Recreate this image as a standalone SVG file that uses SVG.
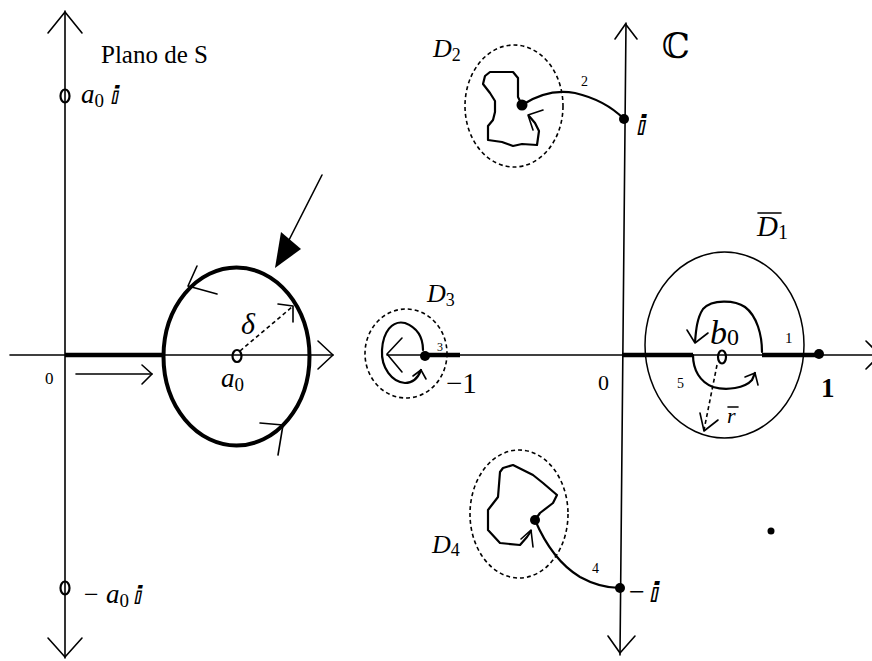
<svg xmlns="http://www.w3.org/2000/svg" width="872" height="661" viewBox="0 0 872 661">
<style>
.ln{stroke:#000;stroke-width:1.6;fill:none;stroke-linecap:round;stroke-linejoin:round}
.thk{stroke:#000;stroke-width:4.5;fill:none}
.crv{stroke:#000;stroke-width:2.2;fill:none;stroke-linecap:round;stroke-linejoin:round}
.dsh{stroke:#000;stroke-width:1.6;fill:none;stroke-dasharray:4 3}
.mk{stroke:#000;stroke-width:2.2;fill:none}
.t{font-family:"Liberation Serif","DejaVu Serif",serif;fill:#000}
.it{font-style:italic}
.ii{font-family:"DejaVu Serif","DejaVu Sans",serif;font-weight:bold;font-style:italic}
</style>
<rect width="872" height="661" fill="#fff"/>

<g id="s-plane">
  <line class="ln" x1="65" y1="11" x2="65" y2="658"/>
  <polyline class="ln" points="48,33 65,12 82,33"/>
  <polyline class="ln" points="48,638 65,657 82,638"/>
  <line class="ln" x1="10" y1="355" x2="333" y2="355"/>
  <polyline class="ln" points="318,341 333,355 318,369"/>
  <line class="thk" x1="65" y1="355" x2="163" y2="355"/>
  <line class="ln" x1="76" y1="374" x2="152" y2="374"/>
  <polyline class="ln" points="142,365 152,374 142,384"/>
  <text class="t" x="45" y="384" font-size="17">0</text>
  <text class="t" x="101" y="63" font-size="25">Plano de S</text>
  <ellipse class="mk" cx="65" cy="96" rx="4.5" ry="6.5"/>
  <text class="t" x="81" y="103" font-size="27"><tspan class="it">a</tspan><tspan font-size="19" dy="4">0</tspan></text>
  <text class="t ii" x="111" y="104" font-size="25">ⅈ</text>
  <ellipse class="mk" cx="65" cy="588" rx="4.5" ry="6.5"/>
  <text class="t" x="84" y="603" font-size="26">−</text>
  <text class="t" x="106" y="603" font-size="27"><tspan class="it">a</tspan><tspan font-size="19" dy="4">0</tspan></text>
  <text class="t ii" x="134" y="604" font-size="25">ⅈ</text>
</g>

<g id="s-circle">
  <ellipse cx="236.5" cy="356.5" rx="73" ry="89" fill="none" stroke="#000" stroke-width="4"/>
  <polyline class="ln" points="197,266 188,286 217,294"/>
  <polyline class="ln" points="260,423 283,425 278,455"/>
  <ellipse class="mk" cx="237" cy="356" rx="4.5" ry="6"/>
  <text class="t" x="221" y="387" font-size="27"><tspan class="it">a</tspan><tspan font-size="19" dy="4">0</tspan></text>
  <line class="dsh" x1="240" y1="351" x2="292" y2="307"/>
  <polyline class="ln" points="278,304 293,306 293,322"/>
  <text class="t it" x="241" y="334" font-size="30">δ</text>
  <line class="ln" x1="322" y1="175" x2="289" y2="240" stroke-width="2"/>
  <polygon points="275,268 281,232 301,249" fill="#000"/>
</g>

<g id="c-plane">
  <line class="ln" x1="626" y1="23" x2="620" y2="655"/>
  <polyline class="ln" points="615,39 625.5,24 637,39"/>
  <polyline class="ln" points="608,636 620,653 635,636"/>
  <line class="ln" x1="387" y1="355" x2="880" y2="355"/>
  <polyline class="ln" points="866,341 880,355 866,369"/>
  <line class="thk" x1="423" y1="355" x2="460" y2="355"/>
  <line class="thk" x1="622" y1="355" x2="693" y2="355"/>
  <line class="thk" x1="762" y1="355" x2="819" y2="355"/>
  <text class="t" x="662" y="58" font-size="35" font-family="DejaVu Serif">ℂ</text>
  <text class="t" x="598" y="390" font-size="22">0</text>
  <text class="t" x="446" y="393" font-size="29">−1</text>
  <text class="t" x="821" y="397" font-size="27" font-weight="bold">1</text>
  <circle cx="624" cy="119" r="5"/>
  <text class="t ii" x="637" y="135" font-size="28">ⅈ</text>
  <circle cx="620" cy="588" r="5"/>
  <text class="t" x="629" y="601" font-size="28">−</text>
  <text class="t ii" x="650" y="602" font-size="28">ⅈ</text>
  <circle cx="771" cy="531" r="3.5"/>
</g>

<g id="D1">
  <ellipse cx="724.5" cy="345" rx="79.5" ry="93" fill="none" stroke="#000" stroke-width="1.5"/>
  <text class="t" x="757" y="236" font-size="29"><tspan class="it">D</tspan><tspan font-size="20" dy="3">1</tspan></text>
  <line class="ln" x1="758" y1="213" x2="781" y2="213" stroke-width="1.4"/>
  <path class="crv" d="M762,352 C762,335 757,316 745,307 C735,300 712,299 703,309 C697,318 696,330 695,342"/>
  <polyline class="ln" points="687,330 695,343 708,333"/>
  <path class="crv" d="M693,355 C693,370 700,382 713,387 C727,391 745,388 752,380 L755,373"/>
  <polyline class="ln" points="745,377 755,373 758,385"/>
  <ellipse class="mk" cx="722" cy="357" rx="4" ry="6.5"/>
  <text class="t" x="710" y="344" font-size="34"><tspan class="it">b</tspan><tspan font-size="24" dy="1">0</tspan></text>
  <line class="dsh" x1="717" y1="365" x2="704" y2="430"/>
  <polyline class="ln" points="700,413 704,431 718,420"/>
  <text class="t it" x="727" y="423" font-size="22">r</text>
  <line class="ln" x1="728" y1="407" x2="738" y2="407" stroke-width="1.3"/>
  <circle cx="819" cy="354" r="5"/>
  <text class="t" x="785" y="343" font-size="15">1</text>
  <text class="t" x="677" y="388" font-size="14">5</text>
</g>

<g id="D2">
  <ellipse class="dsh" cx="514" cy="106" rx="49" ry="61"/>
  <text class="t" x="433" y="57" font-size="26"><tspan class="it">D</tspan><tspan font-size="18" dy="4">2</tspan></text>
  <path class="crv" d="M522,105 L518,97 L518,78 L513,72 L490,72 L485,76 L483,84 L490,93 L495,101 L495,112 L493,120 L488,126 L488,140 L502,142 L513,146 L522,144 L537,145 L539,131 L535,123 L529,116"/>
  <polyline class="ln" points="543,110 528,115 533,130"/>
  <circle cx="522" cy="105" r="5.5"/>
</g>

<g id="D3">
  <ellipse class="dsh" cx="406" cy="353.5" rx="41" ry="44.5"/>
  <text class="t" x="427" y="302" font-size="26"><tspan class="it">D</tspan><tspan font-size="18" dy="4">3</tspan></text>
  <polyline class="ln" points="402,338 387,354 402,372"/>
  <path class="crv" d="M423,350 C423,338 418,328 405,323 C392,320 383,332 382,350 C381,368 392,382 405,383 C413,383 418,378 421,370"/>
  <polyline class="ln" points="413,376 421,370 426,379"/>
  <circle cx="425" cy="356" r="5"/>
  <text class="t" x="437" y="351" font-size="12">3</text>
</g>

<g id="D4">
  <ellipse class="dsh" cx="519" cy="514" rx="49" ry="64"/>
  <text class="t" x="432" y="553" font-size="26"><tspan class="it">D</tspan><tspan font-size="18" dy="3">4</tspan></text>
  <path class="crv" d="M535,520 L540,513 L553,503 L557,495 L543,483 L533,475 L513,465 L503,468 L500,472 L498,497 L488,510 L488,530 L500,543 L520,545 L527,537 L531,531"/>
  <polyline class="ln" points="521,539 531,530 533,547"/>
  <circle cx="535" cy="520" r="5"/>
</g>

<g id="connectors">
  <path class="crv" d="M522,105 Q548,88 575,93 Q605,100 624,119"/>
  <text class="t" x="581" y="86" font-size="14">2</text>
  <path class="crv" d="M535,520 Q552,560 580,577 Q600,588 620,588"/>
  <text class="t" x="592" y="573" font-size="14">4</text>
</g>
</svg>
